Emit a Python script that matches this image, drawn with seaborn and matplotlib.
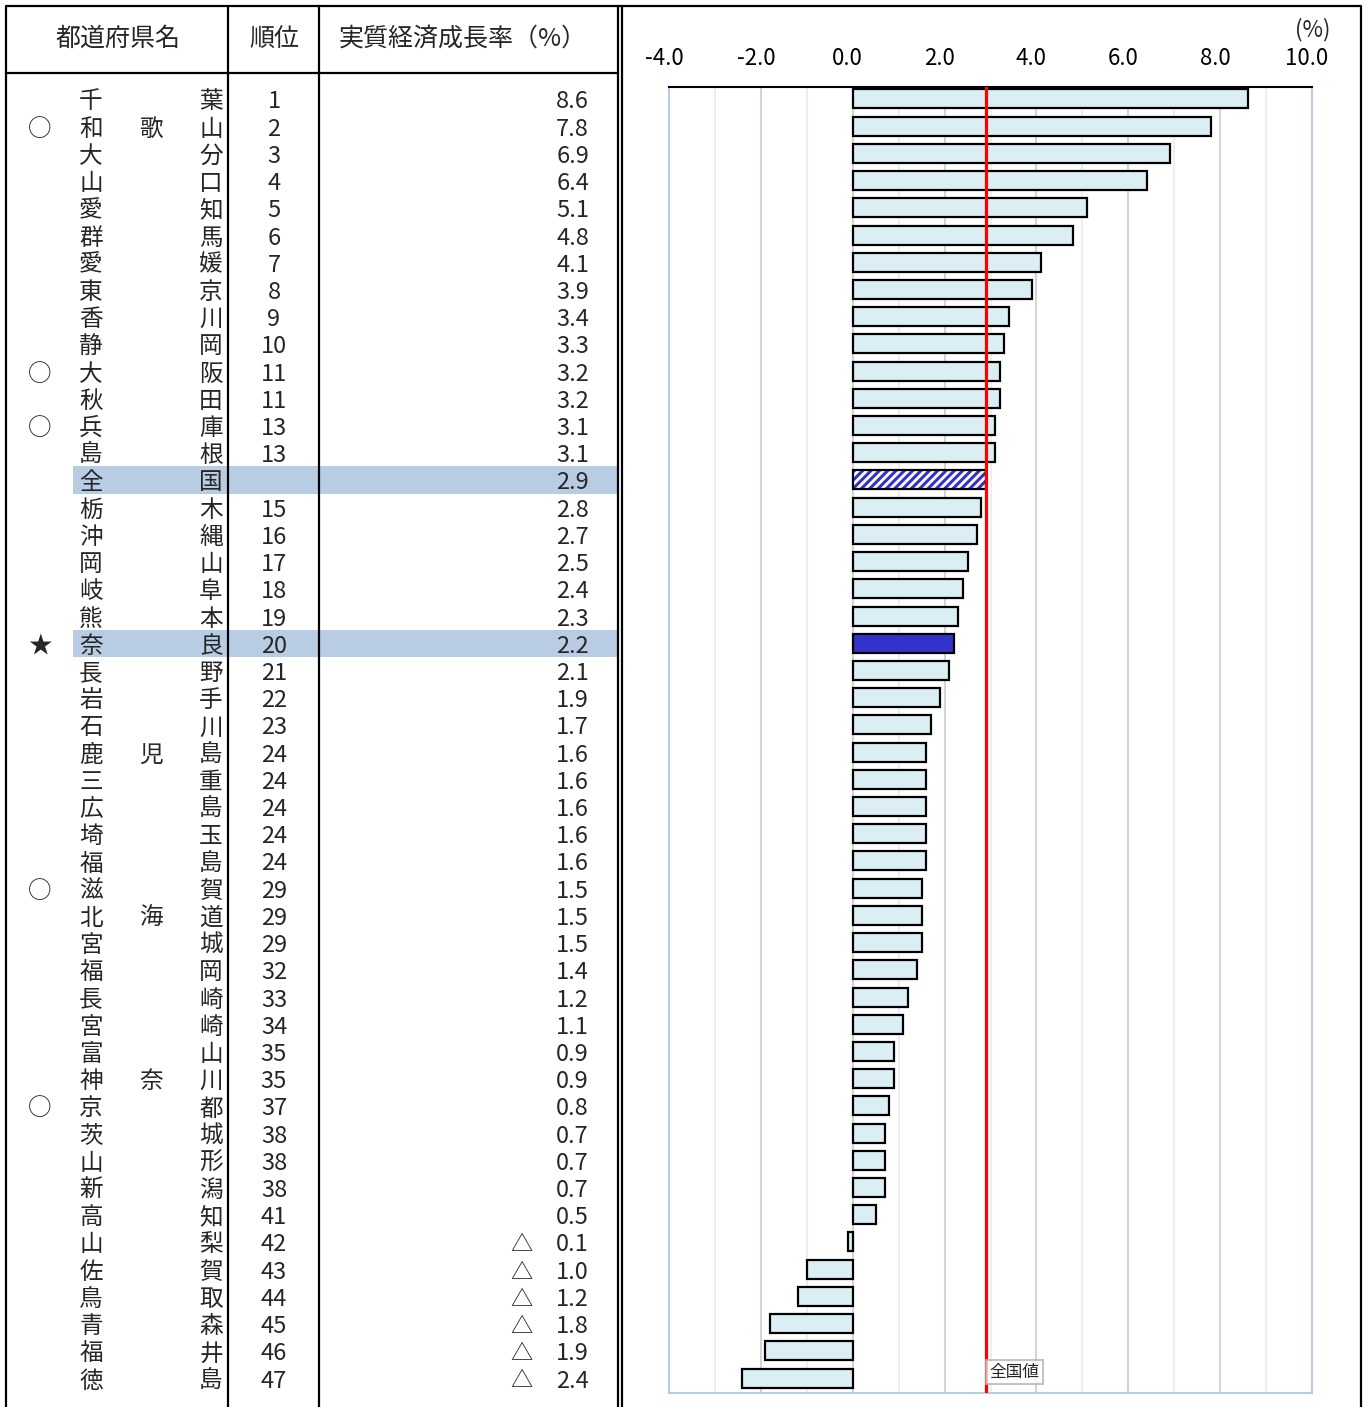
import matplotlib
matplotlib.use("Agg")
import matplotlib.pyplot as plt
import matplotlib.transforms as mtransforms
from matplotlib.patches import Rectangle
import seaborn as sns
import pandas as pd
import numpy as np

# ── Data ──────────────────────────────────────────────────────────────────
prefs = ["千葉", "和歌山", "大分", "山口", "愛知", "群馬", "愛媛", "東京", "香川", "静岡",
         "大阪", "秋田", "兵庫", "島根", "全国", "栃木", "沖縄", "岡山", "岐阜", "熊本",
         "奈良", "長野", "岩手", "石川", "鹿児島", "三重", "広島", "埼玉", "福島", "滋賀",
         "北海道", "宮城", "福岡", "長崎", "宮崎", "富山", "神奈川", "京都", "茨城", "山形",
         "新潟", "高知", "山梨", "佐賀", "鳥取", "青森", "福井", "徳島"]
ranks = ["1", "2", "3", "4", "5", "6", "7", "8", "9", "10",
         "11", "11", "13", "13", "", "15", "16", "17", "18", "19",
         "20", "21", "22", "23", "24", "24", "24", "24", "24", "29",
         "29", "29", "32", "33", "34", "35", "35", "37", "38", "38",
         "38", "41", "42", "43", "44", "45", "46", "47"]
growth = [8.6, 7.8, 6.9, 6.4, 5.1, 4.8, 4.1, 3.9, 3.4, 3.3,
          3.2, 3.2, 3.1, 3.1, 2.9, 2.8, 2.7, 2.5, 2.4, 2.3,
          2.2, 2.1, 1.9, 1.7, 1.6, 1.6, 1.6, 1.6, 1.6, 1.5,
          1.5, 1.5, 1.4, 1.2, 1.1, 0.9, 0.9, 0.8, 0.7, 0.7,
          0.7, 0.5, -0.1, -1.0, -1.2, -1.8, -1.9, -2.4]
marks = ["", "○", "", "", "", "", "", "", "", "",
         "○", "", "○", "", "", "", "", "", "", "",
         "★", "", "", "", "", "", "", "", "", "○",
         "", "", "", "", "", "", "", "○", "", "",
         "", "", "", "", "", "", "", ""]
NATION = "全国"
SELF = "奈良"

# ── Style ─────────────────────────────────────────────────────────────────
sns.set_theme(style="white")
plt.rcParams["font.family"] = ["Noto Sans CJK JP", "DejaVu Sans"]
plt.rcParams["axes.unicode_minus"] = False
plt.rcParams["hatch.linewidth"] = 2.2

BAR_FILL = "#daeef3"
BLUE = "#3333cc"
BAND = "#b8cce4"
FS = 17

W, H = 1368, 1407
fig = plt.figure(figsize=(W / 100, H / 100), dpi=100)

# ── Bar chart panel ───────────────────────────────────────────────────────
L, R, T, B = 669, 1312, 87, 1393
ax = fig.add_axes([L / W, 1 - B / H, (R - L) / W, (B - T) / H])

df = pd.DataFrame({"name": prefs, "value": growth})
sns.barplot(data=df, x="value", y="name", order=prefs, orient="h",
            color=BAR_FILL, saturation=1, edgecolor="black", linewidth=1.6,
            width=0.7, errorbar=None, ax=ax)

nat_val = growth[prefs.index(NATION)]
for name, patch in zip(prefs, ax.patches):
    patch.set_zorder(3)
    if name == SELF:
        patch.set_facecolor(BLUE)
    elif name == NATION:
        patch.set_facecolor("white")
        patch.set_edgecolor(BLUE)
        patch.set_linewidth(0)
        patch.set_hatch("////")
        ax.add_patch(Rectangle((patch.get_x(), patch.get_y()), patch.get_width(),
                               patch.get_height(), fill=False, edgecolor="black",
                               linewidth=1.6, zorder=4))

ax.set_xlim(-4, 10)
ax.set_ylim(len(prefs) - 1 + 0.55, -0.44)
ax.set_xlabel("")
ax.set_ylabel("")
ax.set_yticks([])
ax.set_xticks(np.arange(-4, 10.1, 2))
ax.set_xticks(np.arange(-3, 10, 2), minor=True)
ax.set_xticklabels([f"{v:.1f}" for v in np.arange(-4, 10.1, 2)], fontsize=16)
ax.xaxis.tick_top()
ax.tick_params(axis="x", which="both", length=0, pad=12, colors="black")
shift = mtransforms.ScaledTranslation(-5 / 100, 0, fig.dpi_scale_trans)
for lbl in ax.get_xticklabels():
    lbl.set_transform(lbl.get_transform() + shift)
ax.grid(which="major", axis="x", color="#d4d4d4", linewidth=1.5)
ax.grid(which="minor", axis="x", color="#eeeeee", linewidth=1.5)
ax.set_axisbelow(True)
for side in ["left", "right", "bottom"]:
    ax.spines[side].set_color(BAND)
    ax.spines[side].set_linewidth(1.5)
ax.spines["top"].set_color("black")
ax.spines["top"].set_linewidth(1.5)

ax.axvline(nat_val, color="red", linewidth=2.3, zorder=6)
ax.text(nat_val + 0.08, 0.016, "全国値", transform=ax.get_xaxis_transform(),
        ha="left", va="center", fontsize=12, zorder=7,
        bbox=dict(boxstyle="square,pad=0.2", fc="white", ec="#b0b0b0", alpha=0.75, lw=1.5))

# ── Table panel (pixel coordinates) ───────────────────────────────────────
ax_t = fig.add_axes([0, 0, 1, 1])
ax_t.set_xlim(0, W)
ax_t.set_ylim(H, 0)
ax_t.axis("off")
row_base = mtransforms.blended_transform_factory(ax_t.transData, ax.transData)
row = mtransforms.offset_copy(row_base, fig=fig, y=-3, units="dots")

lw = 1.6
for x in [6, 228, 319, 618, 622, 1361]:
    ax_t.plot([x, x], [6, H], color="black", lw=lw, solid_capstyle="butt")
ax_t.plot([6, 1361], [6, 6], color="black", lw=lw)
ax_t.plot([6, 618], [73, 73], color="black", lw=lw)

ax_t.text(118, 39, "都道府県名", ha="center", va="center", fontsize=18)
ax_t.text(274, 39, "順位", ha="center", va="center", fontsize=18)
ax_t.text(463, 39, "実質経済成長率（%）", ha="center", va="center", fontsize=18)
ax_t.text(1313, 30, "(%)", ha="center", va="center", fontsize=16)

for i, (name, rk, v, mk) in enumerate(zip(prefs, ranks, growth, marks)):
    if name in (NATION, SELF):
        ax_t.add_patch(Rectangle((73, i - 0.5), 618 - 73, 1.0, transform=row_base,
                                 facecolor=BAND, edgecolor="none", zorder=0))
    if mk:
        ax_t.text(40, i, mk, transform=row, ha="center", va="center", fontsize=FS)
    xs = [91, 211] if len(name) == 2 else [91, 151, 211]
    for x, ch in zip(xs, name):
        ax_t.text(x, i, ch, transform=row, ha="center", va="center", fontsize=FS)
    ax_t.text(274, i, rk, transform=row, ha="center", va="center", fontsize=FS)
    ax_t.text(589, i, f"{abs(v):.1f}", transform=row, ha="right", va="center", fontsize=FS)
    if v < 0:
        ax_t.text(521, i, "△", transform=row, ha="center", va="center", fontsize=FS - 1)

fig.savefig("out.png", dpi=100)
